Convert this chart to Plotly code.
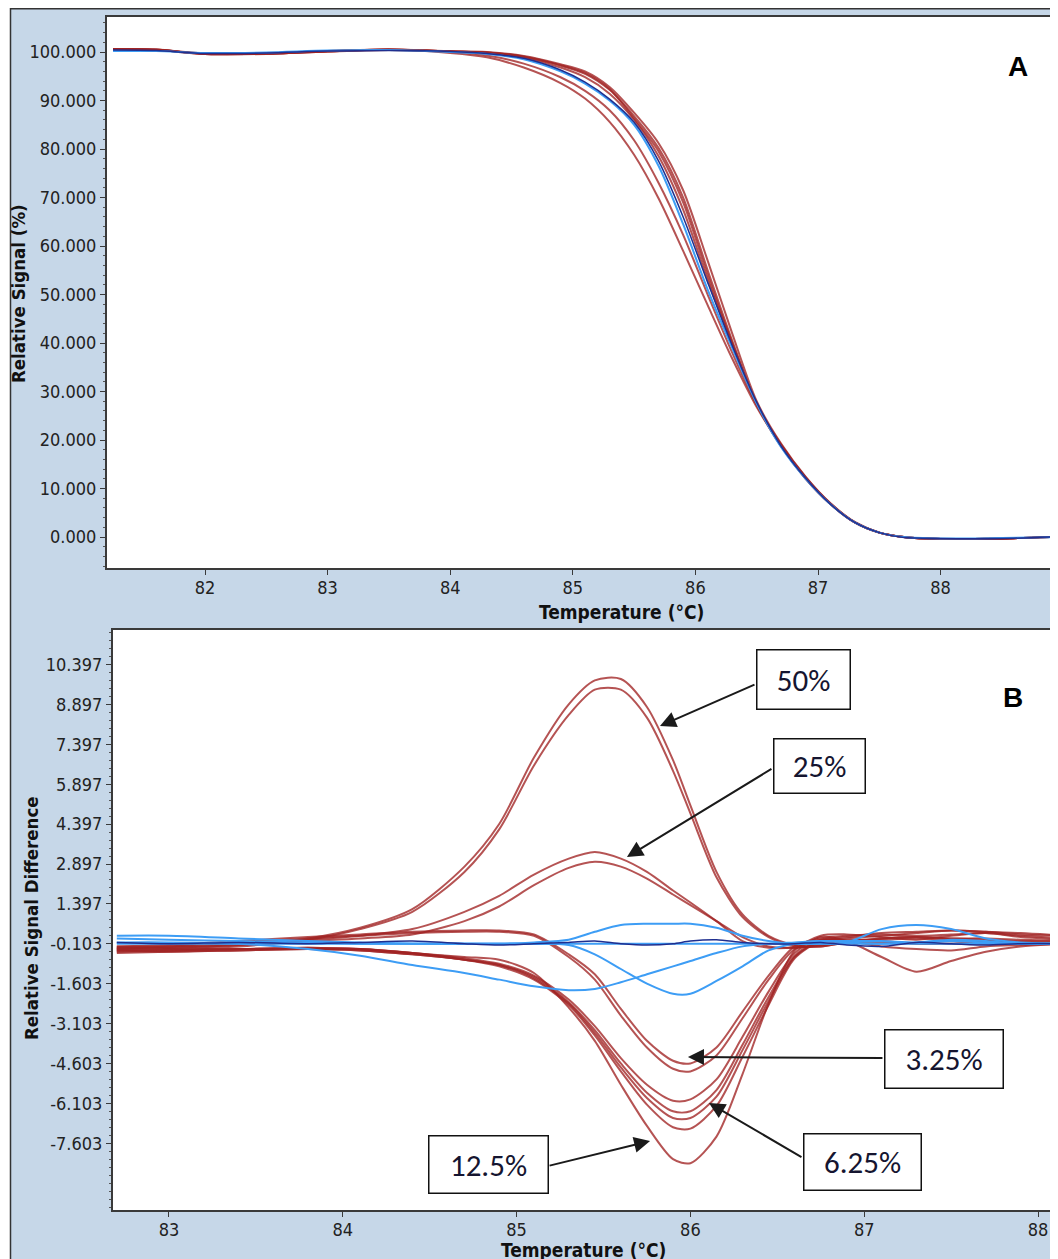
import plotly.graph_objects as go

# Figure is placed by the page at (8, 8); all pixel geometry below is in figure coordinates.
W, H = 1058, 1259

# ---------------- Panel A: normalized melt curves ----------------
xA = [81.25, 81.6, 82.0, 82.5, 83.0, 83.5, 84.0, 84.3, 84.6, 84.9, 85.1, 85.3, 85.5, 85.7,
      85.9, 86.1, 86.3, 86.5, 86.7, 86.9, 87.1, 87.3, 87.5, 87.7, 88.0, 88.5, 89.0]

redA_1 = [100.6, 100.5, 99.6, 99.7, 100.1, 100.5, 99.8, 98.9, 96.8, 93.6, 90.4, 85.6, 78.8, 69.8,
          59.0, 47.8, 36.8, 26.8, 18.8, 12.0, 6.8, 3.0, 0.9, 0.0, -0.4, -0.3, 0.1]
redA_2 = [100.5, 100.4, 99.7, 99.6, 100.2, 100.4, 100.0, 99.3, 97.6, 94.8, 92.0, 88.0, 81.8, 73.0,
          62.3, 50.0, 38.0, 27.2, 18.6, 12.0, 6.8, 3.0, 0.9, 0.0, -0.4, -0.3, 0.1]
redA_3 = [100.5, 100.4, 99.6, 99.7, 100.1, 100.5, 100.1, 99.8, 98.8, 96.8, 94.8, 91.4, 86.0, 78.5,
          67.5, 53.0, 39.8, 27.5, 18.8, 12.2, 6.9, 3.0, 0.9, 0.0, -0.4, -0.3, 0.1]
redA_4 = [100.6, 100.5, 99.6, 99.7, 100.2, 100.5, 100.1, 99.9, 99.0, 97.2, 95.5, 92.2, 86.8, 80.2,
          70.0, 55.0, 40.5, 27.5, 19.0, 12.3, 6.9, 3.0, 0.9, 0.0, -0.4, -0.3, 0.1]
redA_5 = [100.5, 100.5, 99.7, 99.7, 100.1, 100.4, 100.2, 100.0, 99.2, 97.5, 96.0, 92.8, 87.5, 81.2,
          71.5, 57.0, 42.0, 28.0, 19.2, 12.4, 7.0, 3.1, 0.9, 0.0, -0.4, -0.3, 0.1]
redA_6 = [100.6, 100.4, 99.6, 99.8, 100.2, 100.5, 100.1, 99.9, 99.1, 97.3, 95.7, 92.4, 86.3, 79.5,
          69.0, 54.0, 40.0, 27.3, 18.9, 12.2, 6.9, 3.0, 0.9, 0.0, -0.4, -0.3, 0.1]
blueA = [100.2, 100.2, 99.8, 99.9, 100.3, 100.4, 100.0, 99.6, 98.5, 96.0, 93.5, 90.0, 85.0, 76.5,
         64.5, 51.0, 39.0, 27.5, 18.5, 12.0, 6.8, 3.0, 0.9, 0.0, -0.3, -0.2, 0.0]
navyA = [100.4, 100.3, 99.7, 99.8, 100.2, 100.3, 100.1, 99.7, 98.7, 96.3, 93.8, 90.3, 85.5, 77.5,
         66.0, 52.5, 39.5, 27.8, 18.7, 12.1, 6.8, 3.0, 0.9, -0.1, -0.3, -0.3, 0.1]

ticksA_y = [0, 10, 20, 30, 40, 50, 60, 70, 80, 90, 100]
ticktextA_y = ["0.000", "10.000", "20.000", "30.000", "40.000", "50.000",
               "60.000", "70.000", "80.000", "90.000", "100.000"]
ticksA_x = [82, 83, 84, 85, 86, 87, 88, 89]

# ---------------- Panel B: difference curves ----------------
xB = [82.7, 83.0, 83.4, 83.8, 84.1, 84.4, 84.7, 84.9, 85.1, 85.3, 85.45, 85.6, 85.75, 85.9,
      86.0, 86.15, 86.3, 86.45, 86.6, 86.75, 86.9, 87.1, 87.3, 87.5, 87.7, 87.9, 88.16]

b50a = [-0.25, -0.25, -0.15, 0.1, 0.5, 1.2, 2.8, 4.4, 6.9, 8.9, 9.8, 9.85, 8.8, 6.8,
        5.1, 2.6, 1.0, 0.2, -0.15, -0.2, -0.05, 0.1, 0.15, 0.1, 0.05, 0.0, 0.0]
b50b = [-0.3, -0.3, -0.2, 0.05, 0.45, 1.1, 2.6, 4.2, 6.6, 8.5, 9.45, 9.45, 8.4, 6.4,
        4.8, 2.4, 0.9, 0.15, -0.2, -0.2, -0.05, 0.05, 0.1, 0.05, 0.0, -0.05, -0.05]
b25a = [-0.2, -0.2, -0.1, 0.05, 0.2, 0.45, 1.1, 1.7, 2.5, 3.1, 3.35, 3.1, 2.6, 1.9,
        1.45, 0.75, 0.0, -0.25, -0.25, -0.15, 0.0, 0.1, 0.15, 0.1, 0.1, 0.05, 0.0]
b25b = [-0.25, -0.25, -0.15, 0.0, 0.1, 0.25, 0.75, 1.3, 2.1, 2.75, 2.98, 2.8, 2.35, 1.75,
        1.35, 0.75, 0.15, -0.2, -0.25, -0.15, -0.05, -0.05, -0.1, -0.1, -0.1, -0.1, -0.1]
b3a = [-0.2, -0.15, 0.0, 0.15, 0.25, 0.35, 0.4, 0.4, 0.25, -0.5, -1.25, -2.55, -3.75, -4.5,
       -4.6, -4.0, -2.65, -1.3, -0.2, 0.1, 0.2, 0.25, 0.2, 0.25, 0.3, 0.2, 0.1]
b3b = [-0.3, -0.2, -0.05, 0.1, 0.2, 0.3, 0.35, 0.35, 0.2, -0.6, -1.45, -2.8, -4.0, -4.8,
       -4.9, -4.3, -2.9, -1.45, -0.3, 0.05, 0.15, 0.3, 0.35, 0.4, 0.35, 0.3, 0.2]
b6a = [-0.35, -0.35, -0.3, -0.25, -0.3, -0.45, -0.65, -0.85, -1.3, -2.2, -3.2, -4.4, -5.4, -6.0,
       -5.95, -5.2, -3.6, -1.9, -0.45, 0.15, 0.0, -0.6, -1.15, -0.75, -0.4, -0.2, -0.1]
b6b = [-0.4, -0.35, -0.3, -0.3, -0.35, -0.5, -0.7, -0.9, -1.35, -2.3, -3.35, -4.6, -5.7, -6.4,
       -6.4, -5.6, -3.9, -2.1, -0.55, 0.05, 0.0, -0.2, -0.3, -0.35, -0.2, -0.15, -0.1]
b6c = [-0.35, -0.4, -0.35, -0.3, -0.3, -0.45, -0.7, -0.9, -1.4, -2.35, -3.45, -4.75, -5.9, -6.65,
       -6.65, -5.85, -4.1, -2.25, -0.6, 0.0, 0.05, 0.0, -0.1, -0.1, 0.0, -0.05, -0.1]
b6d = [-0.45, -0.4, -0.35, -0.3, -0.35, -0.5, -0.7, -0.95, -1.45, -2.4, -3.55, -4.9, -6.15, -7.0,
       -7.05, -6.2, -4.35, -2.4, -0.65, 0.0, 0.1, 0.2, 0.3, 0.4, 0.35, 0.25, 0.2]
b12 = [-0.35, -0.3, -0.3, -0.25, -0.3, -0.45, -0.6, -0.7, -1.2, -2.5, -3.75, -5.4, -6.95, -8.2,
       -8.35, -7.35, -5.0, -2.35, -0.35, 0.2, 0.25, 0.15, 0.05, 0.2, 0.3, 0.15, 0.05]

blueB_flat = [-0.103, -0.103, -0.103, -0.103, -0.103, -0.103, -0.103, -0.103, -0.103,
              -0.103, -0.103, -0.103, -0.103, -0.103, -0.103, -0.103, -0.103, -0.103,
              -0.103, -0.103, -0.103, -0.103, -0.103, -0.103, -0.103, -0.103, -0.103]
blueB_bump = [0.2, 0.2, 0.1, 0.0, -0.05, -0.1, -0.1, -0.1, -0.05, 0.05, 0.35, 0.6, 0.65, 0.65,
              0.65, 0.5, 0.2, 0.0, -0.1, -0.1, -0.05, 0.45, 0.6, 0.45, 0.1, -0.05, -0.1]
blueB_broad = [-0.05, -0.05, -0.1, -0.3, -0.55, -0.9, -1.2, -1.45, -1.7, -1.85, -1.8, -1.55, -1.25, -0.95,
               -0.75, -0.45, -0.2, -0.1, -0.05, 0.0, 0.0, 0.0, -0.05, 0.05, 0.0, -0.1, -0.1]
blueB_sharp = [0.1, 0.05, 0.0, -0.05, -0.1, -0.1, -0.1, -0.1, -0.1, -0.15, -0.5, -1.05, -1.6, -1.98,
               -1.98, -1.5, -0.95, -0.35, -0.1, 0.0, -0.05, -0.1, -0.05, 0.0, -0.05, -0.1, -0.1]
navyB = [-0.05, -0.1, -0.05, -0.1, -0.05, 0.0, -0.1, -0.15, -0.1, -0.05, 0.0, -0.1, -0.15, -0.1,
         0.0, 0.05, -0.05, -0.1, -0.1, -0.05, -0.15, -0.2, -0.05, -0.1, -0.15, -0.1, -0.1]

ticksB_y = [-7.603, -6.103, -4.603, -3.103, -1.603, -0.103, 1.397, 2.897, 4.397, 5.897, 7.397, 8.897, 10.397]
ticktextB_y = ["-7.603", "-6.103", "-4.603", "-3.103", "-1.603", "-0.103", "1.397",
               "2.897", "4.397", "5.897", "7.397", "8.897", "10.397"]
ticksB_x = [83, 84, 85, 86, 87, 88]

# callout labels and the points their arrows touch (data coordinates of panel B)
labels = ["50%", "25%", "3.25%", "6.25%", "12.5%"]
label_tip_x = [85.825, 85.635, 85.986, 86.107, 85.768]
label_tip_y = [8.085, 3.160, -4.359, -6.088, -7.517]

# ---------------- styling ----------------
RED = "rgba(160,35,35,0.78)"
BLUE = "#3d9df5"
NAVY = "#1f2f8f"
PANEL = "#c6d7e8"
AXC = "#3a3a3a"
NARROW = "DejaVu Sans Condensed, DejaVu Sans, sans-serif"
TICKFONT = dict(family=NARROW, size=18, color="#222")

fig = go.Figure()

def add(x, y, color, xa, ya, width=2.0):
    fig.add_trace(go.Scatter(x=x, y=y, mode="lines", xaxis=xa, yaxis=ya,
                             line=dict(color=color, width=width, shape="spline", smoothing=0.8),
                             hoverinfo="skip", showlegend=False))

for s in [redA_1, redA_2, redA_3, redA_4, redA_5, redA_6]:
    add(xA, s, RED, "x", "y")
add(xA, blueA, BLUE, "x", "y")
add(xA, navyA, NAVY, "x", "y", 1.5)

for s in [b50a, b50b, b25a, b25b, b3a, b3b, b6a, b6b, b6c, b6d, b12]:
    add(xB, s, RED, "x2", "y2")
for s in [blueB_flat, blueB_bump, blueB_broad, blueB_sharp]:
    add(xB, s, BLUE, "x2", "y2")
add(xB, navyB, NAVY, "x2", "y2", 1.5)

axis_common = dict(showline=True, linecolor=AXC, linewidth=2, showgrid=False, zeroline=False,
                   ticks="outside", ticklen=5, tickcolor=AXC, tickwidth=1, tickfont=TICKFONT)

fig.update_layout(
    width=W, height=H, margin=dict(l=0, r=0, t=0, b=0),
    paper_bgcolor=PANEL, plot_bgcolor="white", showlegend=False,
    xaxis=dict(domain=[99 / W, 1], range=[81.2007, 89.0228], anchor="y", mirror=True,
               tickvals=ticksA_x, ticklabelstandoff=-3, **axis_common),
    yaxis=dict(domain=[1 - 560 / H, 1 - 9 / H], range=[-6.39, 107.22], anchor="x",
               tickvals=ticksA_y, ticktext=ticktextA_y,
               minor=dict(tickmode="linear", tick0=0, dtick=2, ticks="outside", ticklen=2, tickcolor="#555"),
               **axis_common),
    xaxis2=dict(domain=[105 / W, 1], range=[82.678, 88.161], anchor="y2", mirror=True,
                tickvals=ticksB_x, ticklabelstandoff=-3, **axis_common),
    yaxis2=dict(domain=[1 - 1202 / H, 1 - 622 / H], range=[-10.11, 11.694], anchor="x2",
                tickvals=ticksB_y, ticktext=ticktextB_y,
                minor=dict(tickmode="linear", tick0=-0.103, dtick=0.3, ticks="outside", ticklen=2, tickcolor="#555"),
                **axis_common),
)

# frame: thin white strip at left, dark border lines at left/top
fig.add_shape(type="rect", xref="paper", yref="paper", x0=0, x1=2 / W, y0=0, y1=1,
              fillcolor="white", line=dict(width=0), layer="below")
fig.add_shape(type="line", xref="paper", yref="paper", x0=2.5 / W, x1=2.5 / W, y0=0, y1=1,
              line=dict(color="#333", width=1.5))
fig.add_shape(type="line", xref="paper", yref="paper", x0=2 / W, x1=1, y0=1 - 0.7 / H, y1=1 - 0.7 / H,
              line=dict(color="#333", width=1.5))

def px(xp, yp):
    return xp / W, 1 - yp / H

# axis titles
for txt, (cx, cy), ang, sz in [("Temperature (°C)", (613, 604), 0, 19),
                               ("Temperature (°C)", (575, 1242), 0, 19),
                               ("Relative Signal (%)", (11, 286), -90, 18.5),
                               ("Relative Signal Difference", (23, 910), -90, 18.5)]:
    X, Y = px(cx, cy)
    fig.add_annotation(text="<b>" + txt + "</b>", x=X, y=Y, xref="paper", yref="paper",
                       xanchor="center", yanchor="middle", showarrow=False, textangle=ang,
                       font=dict(family=NARROW, size=sz, color="#111"))

# panel letters
for txt, (cx, cy) in [("A", (1010, 59)), ("B", (1005, 689))]:
    X, Y = px(cx, cy)
    fig.add_annotation(text="<b>" + txt + "</b>", x=X, y=Y, xref="paper", yref="paper",
                       xanchor="center", yanchor="middle", showarrow=False,
                       font=dict(family="Liberation Sans, Arial, sans-serif", size=28, color="#000"))

# boxed labels
box_geom = [(795, 672, 95, 61), (811, 758, 93, 56), (936, 1051, 120, 60),
            (854, 1154, 119, 58), (480, 1156, 121, 59)]
for txt, (cx, cy, bw, bh) in zip(labels, box_geom):
    X, Y = px(cx, cy)
    fig.add_annotation(text=txt, x=X, y=Y, xref="paper", yref="paper",
                       xanchor="center", yanchor="middle", showarrow=False,
                       width=bw - 3, height=bh - 3, borderpad=0, borderwidth=1.5,
                       bordercolor="#111", bgcolor="white", align="center", valign="middle",
                       font=dict(family="Carlito, Lato, Open Sans, sans-serif", size=31, color="#151530"))

# arrows (tail offsets in pixels from the tip)
tails = [(96, -42), (146, -89), (196, 1), (94, 55), (-102, 25)]
for tx, ty, (ax, ay) in zip(label_tip_x, label_tip_y, tails):
    fig.add_annotation(text="", x=tx, y=ty, xref="x2", yref="y2", ax=ax, ay=ay,
                       showarrow=True, arrowhead=2, arrowsize=1.6, arrowwidth=2,
                       arrowcolor="#1a1a1a", standoff=0)

fig.write_html("out.html")
